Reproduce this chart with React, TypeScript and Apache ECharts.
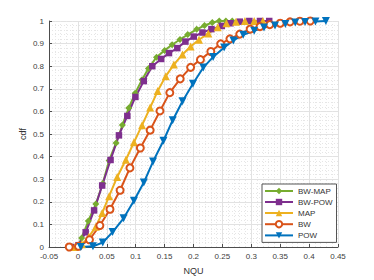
import React, { useEffect, useRef } from "react";
import * as echarts from "echarts";

const xTicks = [-0.05, 0, 0.05, 0.1, 0.15, 0.2, 0.25, 0.3, 0.35, 0.4, 0.45];

const bwMapX = [0.0, 0.0065, 0.018, 0.031, 0.043, 0.054, 0.066, 0.077, 0.088, 0.099, 0.111, 0.122, 0.136, 0.15, 0.163, 0.1766, 0.19, 0.2055, 0.219, 0.2325, 0.2446, 0.256, 0.267];
const bwMapY = [0, 0.04, 0.115, 0.19, 0.281, 0.383, 0.46, 0.54, 0.615, 0.68, 0.74, 0.79, 0.84, 0.87, 0.895, 0.918, 0.94, 0.963, 0.98, 0.993, 1, 1, 1];

const bwPowX = [-0.012, 0.001, 0.0135, 0.028, 0.042, 0.0565, 0.071, 0.0855, 0.0995, 0.114, 0.1287, 0.144, 0.1576, 0.172, 0.186, 0.2005, 0.2155, 0.231, 0.249, 0.264, 0.28, 0.2966, 0.315, 0.331];
const bwPowY = [0, 0.008, 0.065, 0.162, 0.272, 0.385, 0.494, 0.58, 0.664, 0.734, 0.8, 0.832, 0.858, 0.88, 0.909, 0.931, 0.949, 0.964, 0.978, 0.99, 0.997, 1, 1, 1];

const mapX = [-0.005, 0.007, 0.019, 0.031, 0.042, 0.054, 0.068, 0.083, 0.097, 0.111, 0.125, 0.138, 0.152, 0.166, 0.181, 0.195, 0.2095, 0.2256, 0.242, 0.257, 0.2735, 0.289, 0.305, 0.32];
const mapY = [0, 0.012, 0.045, 0.09, 0.15, 0.225, 0.31, 0.386, 0.463, 0.539, 0.617, 0.69, 0.756, 0.807, 0.852, 0.887, 0.917, 0.945, 0.972, 0.99, 0.997, 1, 1, 1];

const bwX = [-0.015, 0.001, 0.02, 0.038, 0.0555, 0.073, 0.09, 0.108, 0.125, 0.142, 0.159, 0.177, 0.195, 0.212, 0.23, 0.247, 0.263, 0.28, 0.298, 0.315, 0.332, 0.35, 0.367, 0.384, 0.402];
const bwY = [0, 0.003, 0.032, 0.095, 0.167, 0.251, 0.35, 0.438, 0.517, 0.602, 0.683, 0.744, 0.795, 0.829, 0.865, 0.899, 0.921, 0.942, 0.964, 0.975, 0.984, 0.99, 0.996, 0.999, 1.0];

const powX = [0.005, 0.026, 0.043, 0.06, 0.079, 0.097, 0.114, 0.13, 0.148, 0.164, 0.181, 0.199, 0.217, 0.234, 0.253, 0.269, 0.286, 0.305, 0.322, 0.341, 0.359, 0.376, 0.393, 0.411, 0.429];
const powY = [0, 0.003, 0.02, 0.066, 0.127, 0.205, 0.285, 0.378, 0.47, 0.561, 0.645, 0.722, 0.794, 0.841, 0.883, 0.914, 0.939, 0.957, 0.971, 0.98, 0.987, 0.993, 0.996, 0.998, 1.0];

const names = ["BW-MAP", "BW-POW", "MAP", "BW", "POW"];
const colors = ["#77AC30", "#7E2F8E", "#EDB120", "#D95319", "#0072BD"];

const zip = (xs: number[], ys: number[]) => xs.map((x, i) => [x, ys[i]]);

export default function App() {
  const ref = useRef<HTMLDivElement>(null);
  useEffect(() => {
    if (!ref.current) return;
    const chart = echarts.init(ref.current, undefined, { renderer: "svg" });
    const font = "Liberation Sans, Arial, Helvetica, sans-serif";
    const datasets = [
      zip(bwMapX, bwMapY),
      zip(bwPowX, bwPowY),
      zip(mapX, mapY),
      zip(bwX, bwY),
      zip(powX, powY),
    ];
    const symbols = ["diamond", "rect", "triangle", "emptyCircle", "triangle"];
    const sizes = [7, 6.5, 8, 7, 8];
    const rotates = [0, 0, 0, 0, 180];
    const axisColor = "#4d4d4d";
    const fmt = (v: number) => String(parseFloat(v.toFixed(2)));
    chart.setOption({
      animation: false,
      backgroundColor: "#ffffff",
      grid: { left: 49, right: 36, top: 21, bottom: 31 },
      legend: {
        data: names,
        orient: "vertical",
        left: 262,
        top: 184,
        itemWidth: 28,
        itemHeight: 8,
        itemGap: 3,
        padding: [3, 4, 3, 2],
        backgroundColor: "#ffffff",
        borderColor: "#555555",
        borderWidth: 1,
        borderRadius: 0,
        textStyle: { fontSize: 8, color: "#333333", fontFamily: font },
      },
      xAxis: {
        type: "value",
        min: -0.05,
        max: 0.45,
        interval: 0.05,
        name: "NQU",
        nameLocation: "middle",
        nameGap: 19,
        nameMoveOverlap: false,
        nameTextStyle: { fontSize: 9, color: "#333333", fontFamily: font },
        axisLine: { onZero: false, lineStyle: { color: axisColor, width: 1 } },
        axisTick: { inside: true, length: 3, lineStyle: { color: axisColor } },
        axisLabel: { fontSize: 8, color: "#404040", fontFamily: font, margin: 5, formatter: fmt },
        splitLine: { show: true, lineStyle: { color: "#e2e2e2", width: 1 } },
        minorTick: { show: false, splitNumber: 5 },
        minorSplitLine: { show: true, lineStyle: { color: "#e6e6e6", type: [1, 2], width: 1 } },
      },
      yAxis: {
        type: "value",
        min: 0,
        max: 1,
        interval: 0.1,
        name: "cdf",
        nameLocation: "middle",
        nameGap: 22,
        nameMoveOverlap: false,
        nameTextStyle: { fontSize: 9, color: "#333333", fontFamily: font },
        axisLine: { show: true, onZero: false, lineStyle: { color: axisColor, width: 1 } },
        axisTick: { show: true, inside: true, length: 3, lineStyle: { color: axisColor } },
        axisLabel: { fontSize: 8, color: "#404040", fontFamily: font, margin: 5, formatter: fmt },
        splitLine: { show: true, lineStyle: { color: "#e2e2e2", width: 1 } },
        minorTick: { show: false, splitNumber: 5 },
        minorSplitLine: { show: true, lineStyle: { color: "#e6e6e6", type: [1, 2], width: 1 } },
      },
      series: names.map((n, i) => ({
        name: n,
        type: "line",
        data: datasets[i],
        symbol: symbols[i],
        symbolSize: sizes[i],
        symbolRotate: rotates[i],
        showAllSymbol: true,
        clip: false,
        color: colors[i],
        lineStyle: { color: colors[i], width: 2 },
        itemStyle: {
          color: colors[i],
          borderColor: colors[i],
          borderWidth: symbols[i] === "emptyCircle" ? 1.8 : 0,
        },
        emphasis: { disabled: true },
      })),
    });
    return () => chart.dispose();
  }, []);
  return (
    <div
      ref={ref}
      style={{ position: "fixed", left: 0, top: 0, width: 374, height: 280 }}
    />
  );
}
